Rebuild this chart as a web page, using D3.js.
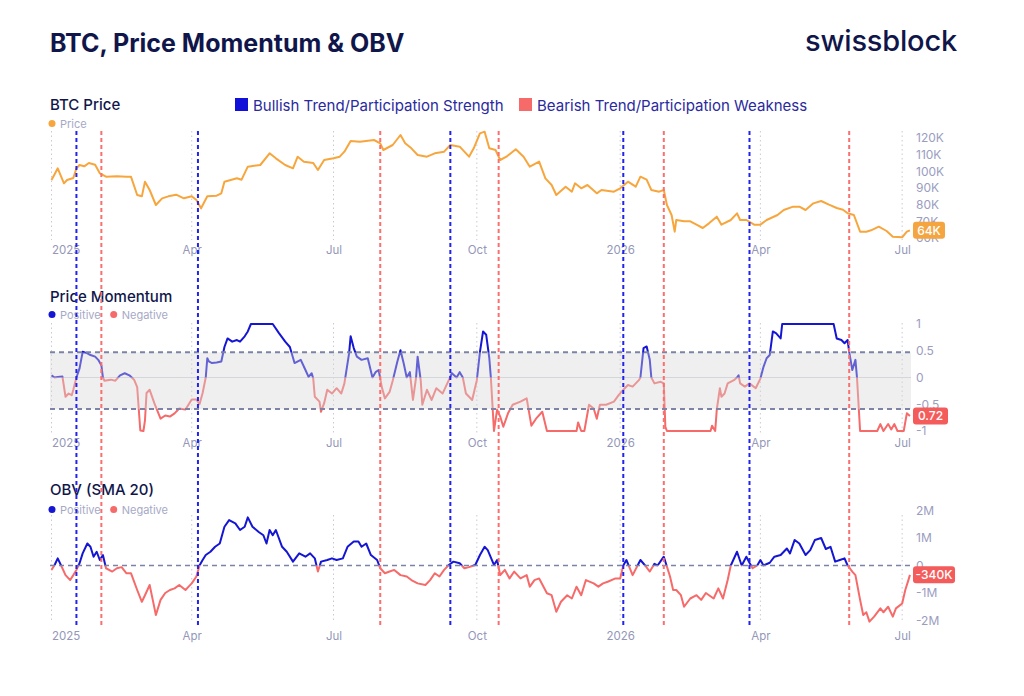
<!DOCTYPE html>
<html>
<head>
<meta charset="utf-8">
<script src="https://cdn.jsdelivr.net/npm/d3@7"></script>
<style>
  body { margin: 0; background: #fff; font-family: Inter, "Noto Sans", sans-serif; }
  svg text { font-family: Inter, "Noto Sans", sans-serif; }
</style>
</head>
<body>
<svg id="chart" width="1024" height="696"></svg>
<script>
// days since 2025-01-01, value
var priceData = [[0,94.8],[2,98.2],[4,101.8],[8,92.8],[10,94.8],[14,96],[16,101.8],[18,103.8],[21,103],[24,105],[28,104],[31,98.8],[35,96.8],[42,97],[48,96.8],[51,96.8],[55,85.8],[58,85],[60,93.8],[63,88.8],[67,79.8],[71,83.8],[75,85],[80,86],[85,83.8],[90,85],[93,82.8],[96,77.8],[100,85],[106,85.4],[109,86.8],[111,93.8],[119,95.8],[122,95],[126,102.8],[134,103.8],[140,110.8],[144,107.8],[150,103.8],[155,101.8],[158,108.8],[162,105.8],[168,105],[171,100.8],[175,106.8],[181,107.8],[185,108.8],[188,111.8],[192,118.2],[198,117.8],[207,118.8],[211,116.8],[213,112.8],[219,115.8],[224,121.8],[227,116.8],[231,113.8],[235,109.8],[241,108.8],[246,110.8],[252,111.8],[256,115.8],[262,114.8],[268,108.8],[271,113.8],[275,122.8],[278,123.8],[281,113.8],[285,112.8],[288,106.8],[292,108.8],[298,113.3],[303,108.8],[307,102.8],[313,105.8],[317,95.8],[321,91.8],[324,85.8],[330,90.8],[334,87.8],[336,92.8],[340,89.8],[344,91.8],[350,86.8],[353,88.8],[361,87.8],[365,89.8],[370,93.8],[375,90.8],[378,96.8],[382,95],[385,88.8],[390,87.8],[393,88.8],[395,79.8],[398,73.8],[400,63.8],[401,70.8],[406,70],[410,70],[414,68],[418,66],[422,68.8],[427,72.8],[430,68],[436,70.8],[440,74.8],[442,70.8],[446,70.8],[451,68],[455,68],[459,70.8],[466,73.8],[470,76.8],[476,78.8],[480,78.8],[484,76.8],[489,80.8],[494,82.2],[499,80],[504,78],[508,77],[511,74.8],[515,73.8],[519,63.8],[523,63.8],[526,64.6],[531,66.8],[536,64.2],[540,60.8],[546,60.4],[549,63.8],[551,64.6]]

var momentumData = [[0,0.04],[2,0],[4,0.01],[7,0.02],[9,-0.36],[11,-0.3],[13,-0.33],[14,-0.23],[16,0],[18,0.17],[20,0.48],[23,0.45],[25,0.42],[28,0.39],[30,0.33],[32,0.23],[33,0],[34,-0.06],[38,-0.04],[41,-0.06],[44,0.04],[47,0.08],[50,0.04],[53,-0.04],[55,-0.18],[57,-0.99],[59,-1],[60,-0.8],[61,-0.29],[63,-0.23],[66,-0.48],[70,-0.77],[73,-0.71],[76,-0.73],[79,-0.67],[82,-0.58],[86,-0.6],[90,-0.41],[93,-0.41],[95,-0.5],[97,-0.29],[99,0],[100,0.36],[101,0.3],[103,0.27],[106,0.28],[109,0.3],[111,0.57],[113,0.73],[116,0.67],[119,0.7],[121,0.67],[124,0.77],[126,0.86],[128,1],[142,1],[146,0.83],[150,0.67],[153,0.57],[156,0.27],[160,0.33],[163,0.14],[165,0.01],[167,0.08],[168,-0.02],[169,-0.36],[172,-0.45],[173,-0.64],[175,-0.48],[177,-0.23],[180,-0.3],[183,-0.2],[186,-0.3],[188,-0.11],[191,0.45],[192,0.77],[194,0.55],[196,0.39],[199,0.33],[203,0.36],[206,0],[208,0.1],[210,0.14],[212,-0.18],[214,-0.39],[217,-0.27],[219,-0.06],[222,0.3],[224,0.51],[226,0.27],[228,0],[230,0.1],[232,-0.42],[234,0],[235,0.39],[237,-0.06],[238,-0.51],[241,-0.23],[244,-0.42],[247,-0.2],[251,-0.3],[255,-0.05],[257,0.08],[260,0],[262,0.1],[264,0],[266,-0.3],[270,-0.42],[273,-0.05],[275,0.48],[277,0.86],[279,0.8],[281,0.36],[282,0],[284,-1],[286,-0.6],[288,-0.73],[290,-0.92],[293,-0.67],[296,-0.51],[301,-0.45],[305,-0.39],[308,-0.9],[311,-0.77],[315,-0.64],[318,-1],[337,-1],[338,-0.84],[340,-1],[342,-1],[345,-0.51],[348,-0.58],[350,-0.77],[352,-0.51],[356,-0.51],[361,-0.45],[364,-0.33],[367,-0.23],[370,-0.14],[373,-0.17],[377,-0.05],[378,0],[380,0.55],[382,0.58],[384,0.33],[385,0],[387,-0.11],[391,-0.08],[393,-0.11],[394,-0.92],[395,-1],[423,-1],[424,-0.9],[426,-1],[427,-0.6],[429,-0.2],[430,-0.36],[432,-0.3],[434,-0.11],[438,-0.05],[440,0],[441,0.04],[442,-0.11],[445,-0.17],[448,-0.11],[452,-0.2],[455,-0.02],[457,0.2],[459,0.36],[461,0.42],[463,0.86],[465,0.83],[468,0.73],[469,1],[502,1],[504,0.73],[507,0.7],[509,0.64],[511,0.7],[512,0.48],[514,0.14],[516,0.33],[517,0],[519,-1],[530,-1],[532,-0.87],[534,-1],[537,-0.87],[539,-0.97],[541,-0.87],[543,-1],[547,-1],[549,-0.67],[551,-0.72]]

// OBV in millions
var obvData = [[0,-0.16],[2,0.02],[4,0.26],[7,-0.1],[9,-0.35],[12,-0.53],[14,-0.35],[16,-0.16],[18,0.08],[20,0.44],[23,0.8],[25,0.68],[27,0.32],[29,0.5],[31,0.2],[33,0.38],[35,-0.1],[39,-0.22],[42,-0.1],[45,-0.06],[48,-0.28],[51,-0.28],[55,-0.89],[58,-1.32],[60,-1.08],[63,-0.71],[65,-1.25],[67,-1.8],[70,-1.25],[73,-1.0],[76,-0.89],[79,-0.83],[82,-0.71],[86,-0.89],[88,-0.77],[90,-0.65],[93,-0.4],[95,0],[97,0.2],[99,0.38],[102,0.5],[105,0.68],[108,0.8],[111,1.41],[114,1.65],[118,1.53],[121,1.29],[124,1.41],[126,1.75],[129,1.41],[133,1.22],[136,1.1],[138,0.8],[140,1.29],[142,1.1],[144,1.29],[148,0.68],[151,0.5],[155,0.14],[159,0.44],[163,0.32],[166,0.44],[169,0.26],[171,-0.22],[173,0.14],[177,0.2],[180,0.26],[183,0.2],[187,0.26],[190,0.68],[194,0.87],[197,0.87],[199,0.68],[202,0.8],[205,0.38],[209,0.2],[211,-0.1],[214,-0.28],[217,-0.22],[220,-0.16],[224,-0.35],[228,-0.4],[231,-0.53],[235,-0.65],[240,-0.71],[243,-0.53],[246,-0.28],[249,-0.4],[252,-0.16],[255,0.02],[258,0.14],[262,0.08],[265,-0.1],[268,-0.06],[272,0.02],[275,0.38],[278,0.68],[280,0.56],[284,0.02],[286,0.2],[288,-0.35],[291,-0.16],[294,-0.47],[297,-0.22],[301,-0.47],[305,-0.35],[307,-0.77],[310,-0.53],[313,-0.47],[318,-1.01],[321,-1.08],[324,-1.68],[327,-1.32],[331,-1.08],[334,-1.2],[337,-0.77],[340,-1.08],[343,-0.53],[348,-0.65],[351,-0.77],[354,-0.65],[357,-0.59],[362,-0.47],[365,-0.47],[367,0],[369,0.2],[373,-0.35],[378,0.2],[381,0],[384,-0.22],[387,0.06],[389,0],[393,0.32],[395,-0.04],[397,-0.4],[399,-0.89],[401,-0.89],[404,-1.08],[406,-1.5],[410,-1.2],[414,-1.08],[417,-1.25],[420,-1.0],[425,-1.2],[428,-0.83],[431,-1.2],[434,-0.53],[436,0],[440,0.5],[443,0],[446,0.32],[448,0.1],[450,-0.1],[453,0],[455,0.2],[457,0],[461,0.1],[464,0.32],[468,0.38],[472,0.62],[474,0.44],[477,0.93],[480,0.8],[484,0.38],[487,0.56],[490,0.93],[494,1.0],[497,0.6],[500,0.68],[503,0.14],[506,0.2],[509,0.26],[511,0],[514,-0.22],[516,-0.35],[519,-1.25],[521,-1.8],[523,-1.7],[525,-2.04],[528,-1.86],[532,-1.56],[534,-1.7],[537,-1.5],[540,-1.86],[542,-1.56],[546,-1.38],[548,-0.89],[550,-0.53],[551,-0.34]]

var bullishDates = ["2025-01-17", "2025-04-05", "2025-09-14", "2026-01-03", "2026-03-25"]
var bearishDates = ["2025-02-02", "2025-07-31", "2025-10-15", "2026-01-29", "2026-05-28"]

var tickDates = ["2025-01-01", "2025-04-01", "2025-07-01", "2025-10-01", "2026-01-01", "2026-04-01", "2026-07-01"]
var tickLabels = ["2025", "Apr", "Jul", "Oct", "2026", "Apr", "Jul"]

var priceTicks = [60, 70, 80, 90, 100, 110, 120]
var momentumTicks = [1, 0.5, 0, -0.5, -1]
var obvTicks = [2, 1, 0, -1, -2]
var momentumBand = [-0.59, 0.47]

var lastPriceLabel = "64K"
var lastMomentumLabel = "0.72"
var lastObvLabel = "-340K"

var navy = "#10164a"
var grey = "#9497b8"
var blue = "#1515d4"
var red = "#f66a6a"
var orange = "#f7a63d"

var parseDate = d3.timeParse("%Y-%m-%d")
var start = new Date(2025, 0, 1)
function dayDate(n) { return d3.timeDay.offset(start, n) }

var svg = d3.select("#chart")

var xScale = d3.scaleTime()
        .domain([start, dayDate(550)])
        .range([51.5, 908.4])

var plotLeft = 50, plotRight = 911

// header
svg.append("text").attr("x", 50).attr("y", 52)
        .attr("font-size", 25).attr("font-weight", 700).attr("fill", navy)
        .text("BTC, Price Momentum & OBV")
svg.append("text").attr("x", 957).attr("y", 51).attr("text-anchor", "end")
        .attr("font-size", 29).attr("font-weight", 500).attr("fill", navy)
        .attr("letter-spacing", -0.2)
        .text("swissblock")

// top legend
var legend = [
        {label: "Bullish Trend/Participation Strength", color: "#1010d8", x: 235},
        {label: "Bearish Trend/Participation Weakness", color: "#f76a6a", x: 519}
]
legend.forEach(function (l) {
        svg.append("rect").attr("x", l.x).attr("y", 98).attr("width", 13).attr("height", 13).attr("fill", l.color)
        svg.append("text").attr("x", l.x + 18).attr("y", 110.5)
                .attr("font-size", 15).attr("fill", "#2a2a9e").text(l.label)
})

var panels = [
        {title: "BTC Price", titleY: 110, legend: [["Price", orange]], legendY: 124,
         data: priceData, domain: [60, 120], range: [238, 138], ticks: priceTicks,
         tickFmt: function (d) { return d + "K" }, gridTop: 131, gridBottom: 240, axisY: 254,
         badge: lastPriceLabel, badgeColor: "#f5a540", badgeW: 32},
        {title: "Price Momentum", titleY: 302, legend: [["Positive", blue], ["Negative", red]], legendY: 315,
         data: momentumData, domain: [-1, 1], range: [431, 324], ticks: momentumTicks,
         tickFmt: function (d) { return d }, gridTop: 323, gridBottom: 433, axisY: 447, split: true, band: true,
         badge: lastMomentumLabel, badgeColor: "#f45c5c", badgeW: 35},
        {title: "OBV (SMA 20)", titleY: 495, legend: [["Positive", blue], ["Negative", red]], legendY: 510,
         data: obvData, domain: [-2, 2], range: [620.5, 510.5], ticks: obvTicks,
         tickFmt: function (d) { return d == 0 ? "0" : d + "M" }, gridTop: 515, gridBottom: 623, axisY: 640,
         split: true, zeroDash: true, badge: lastObvLabel, badgeColor: "#f45c5c", badgeW: 42}
]

panels.forEach(function (p, pi) {
        var g = svg.append("g")
        var yScale = d3.scaleLinear().domain(p.domain).range(p.range)

        g.append("text").attr("x", 50).attr("y", p.titleY)
                .attr("font-size", 15).attr("font-weight", 500).attr("fill", navy).text(p.title)

        var lx = 52
        p.legend.forEach(function (l) {
                g.append("circle").attr("cx", lx).attr("cy", p.legendY - 0.5).attr("r", 3.5).attr("fill", l[1])
                var t = g.append("text").attr("x", lx + 8).attr("y", p.legendY + 3.5)
                        .attr("font-size", 11).attr("fill", "#a6a9c6").text(l[0])
                lx += t.node().getComputedTextLength() + 21
        })

        // dotted grid at ticks
        g.selectAll(".grid").data(tickDates).enter().append("line")
                .attr("x1", function (d) { return xScale(parseDate(d)) })
                .attr("x2", function (d) { return xScale(parseDate(d)) })
                .attr("y1", p.gridTop).attr("y2", p.gridBottom)
                .attr("stroke", "#c9cad6").attr("stroke-width", 1).attr("stroke-dasharray", "1.5,3")

        // x axis
        var xAxis = g.append("g").attr("transform", "translate(0," + (p.axisY - 4) + ")")
                .call(d3.axisBottom(xScale).tickValues(tickDates.map(parseDate))
                        .tickFormat(function (d, i) { return tickLabels[i] }).tickSize(0).tickPadding(0))
        xAxis.select(".domain").remove()
        xAxis.selectAll("text").attr("font-size", 11.5).attr("fill", grey).attr("dy", "0.32em")
                .attr("text-anchor", function (d, i) { return i == 0 ? "start" : "middle" })

        // zero line (momentum)
        if (p.band) {
                g.append("line").attr("x1", plotLeft).attr("x2", plotRight)
                        .attr("y1", yScale(0)).attr("y2", yScale(0)).attr("stroke", "#d4d5e0").attr("stroke-width", 1)
        }

        var line = d3.line()
                .x(function (d) { return xScale(dayDate(d[0])) })
                .y(function (d) { return yScale(d[1]) })

        if (p.split) {
                var idPos = "clipPos" + pi, idNeg = "clipNeg" + pi
                var defs = g.append("defs")
                defs.append("clipPath").attr("id", idPos).append("rect")
                        .attr("x", 0).attr("width", 1024).attr("y", 0).attr("height", yScale(0))
                defs.append("clipPath").attr("id", idNeg).append("rect")
                        .attr("x", 0).attr("width", 1024).attr("y", yScale(0)).attr("height", 696)
                g.append("path").datum(p.data).attr("d", line).attr("fill", "none")
                        .attr("stroke", red).attr("stroke-width", 2).attr("stroke-linejoin", "round")
                        .attr("clip-path", "url(#" + idNeg + ")")
                g.append("path").datum(p.data).attr("d", line).attr("fill", "none")
                        .attr("stroke", blue).attr("stroke-width", 2).attr("stroke-linejoin", "round")
                        .attr("clip-path", "url(#" + idPos + ")")
        } else {
                g.append("path").datum(p.data).attr("d", line).attr("fill", "none")
                        .attr("stroke", orange).attr("stroke-width", 2).attr("stroke-linejoin", "round")
        }

        if (p.band) {
                g.append("rect").attr("x", plotLeft).attr("width", plotRight - plotLeft)
                        .attr("y", yScale(momentumBand[1])).attr("height", yScale(momentumBand[0]) - yScale(momentumBand[1]))
                        .attr("fill", "#d8d8d8").attr("opacity", 0.4)
                momentumBand.forEach(function (b) {
                        g.append("line").attr("x1", plotLeft).attr("x2", plotRight)
                                .attr("y1", yScale(b)).attr("y2", yScale(b))
                                .attr("stroke", "#7c83a6").attr("stroke-width", 2).attr("stroke-dasharray", "5,4")
                })
        }
        if (p.zeroDash) {
                g.append("line").attr("x1", plotLeft).attr("x2", plotRight)
                        .attr("y1", yScale(0)).attr("y2", yScale(0))
                        .attr("stroke", "#7c83a6").attr("stroke-width", 1.5).attr("stroke-dasharray", "5,4")
        }

        // y axis on right
        var yAxis = g.append("g").attr("transform", "translate(916,0)")
                .call(d3.axisRight(yScale).tickValues(p.ticks).tickFormat(p.tickFmt).tickSize(0).tickPadding(0))
        yAxis.select(".domain").remove()
        yAxis.selectAll("text").attr("font-size", 12).attr("fill", "#9a9dbf")

        // last value badge
        var last = p.data[p.data.length - 1]
        var by = yScale(last[1])
        g.append("rect").attr("x", 913).attr("y", by - 8.5).attr("width", p.badgeW).attr("height", 17)
                .attr("rx", 3).attr("fill", p.badgeColor)
        g.append("text").attr("x", 913 + p.badgeW / 2).attr("y", by + 4.2).attr("text-anchor", "middle")
                .attr("font-size", 12).attr("font-weight", 500).attr("fill", "#fff").text(p.badge)
})

// event lines through all panels
var events = bullishDates.map(function (d) { return {date: d, color: "#2323ec"} })
        .concat(bearishDates.map(function (d) { return {date: d, color: "#fb6f6f"} }))
svg.selectAll(".event").data(events).enter().append("line")
        .attr("x1", function (d) { return xScale(parseDate(d.date)) })
        .attr("x2", function (d) { return xScale(parseDate(d.date)) })
        .attr("y1", 131).attr("y2", 627)
        .attr("stroke", function (d) { return d.color })
        .attr("stroke-width", 2).attr("stroke-dasharray", "4,3")
</script>
</body>
</html>
